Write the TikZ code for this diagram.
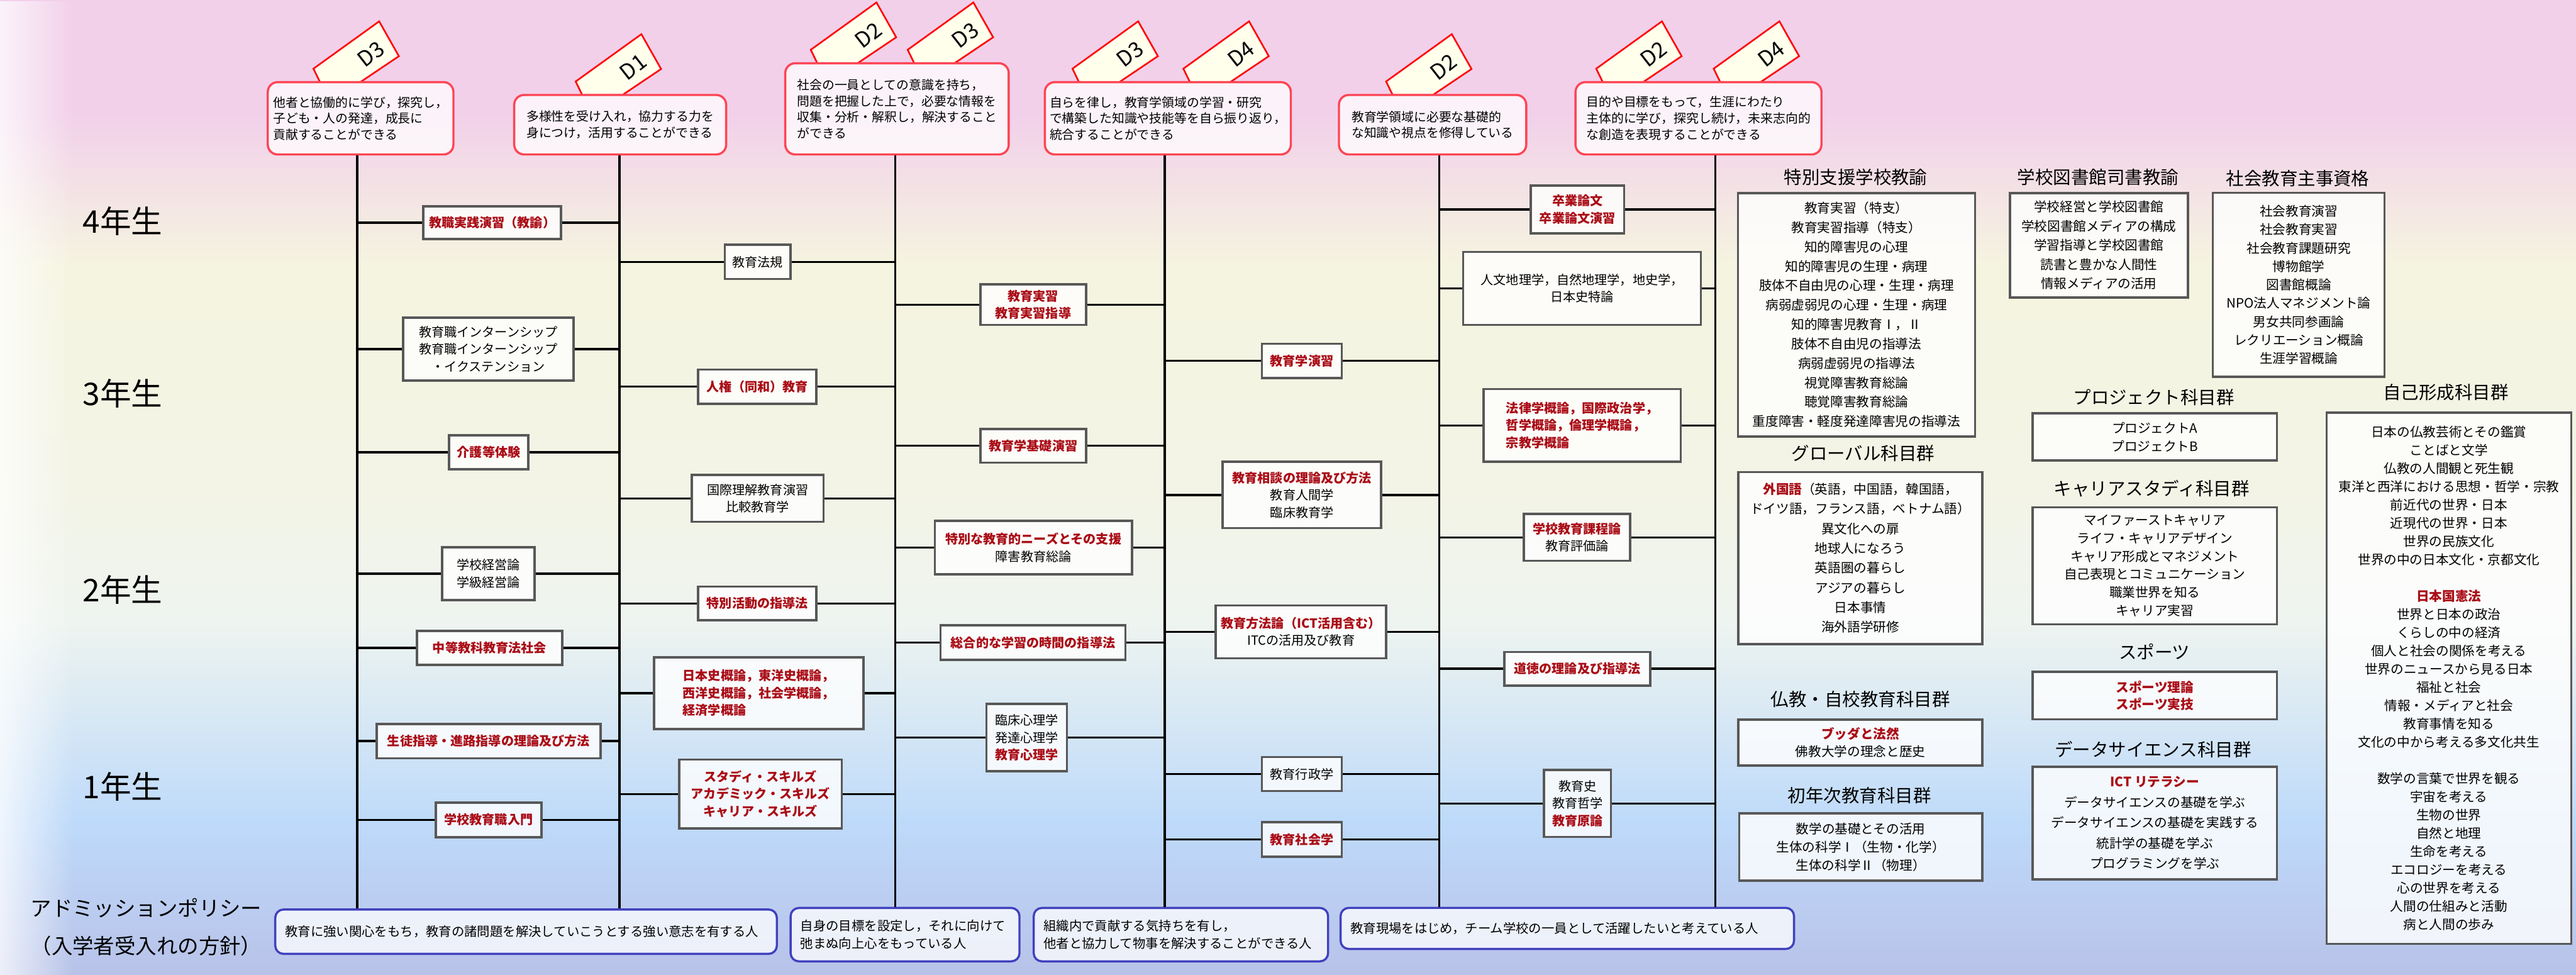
\documentclass[tikz,border=0pt]{standalone}
\usepackage{fontspec}
\setmainfont{Noto Sans CJK JP}
\usetikzlibrary{positioning,fadings}

\definecolor{kred}{RGB}{170,12,22}
\definecolor{dpred}{RGB}{255,68,84}
\definecolor{tagred}{RGB}{255,0,0}
\definecolor{tagfill}{RGB}{255,255,236}
\definecolor{boxgray}{RGB}{88,88,88}
\definecolor{apblue}{RGB}{64,64,190}
\definecolor{bgA}{RGB}{242,208,234}
\definecolor{bgB}{RGB}{245,244,224}
\definecolor{bgC}{RGB}{243,244,230}
\definecolor{bgD}{RGB}{238,244,240}
\definecolor{bgE}{RGB}{190,218,250}
\definecolor{bgF}{RGB}{184,194,232}

\newcommand{\redt}[1]{\textcolor{kred}{\bfseries #1}}

\tikzfading[name=fadeleft, left color=transparent!25, right color=transparent!100]

\tikzset{every picture/.style={line width=0.75pt}}
\tikzset{
  dpbox/.style={draw=dpred, fill=white, fill opacity=0.75, text opacity=1, line width=1.3pt, rounded corners=6pt, align=left, inner sep=0pt, font=\fontsize{7.6}{9.8}\selectfont},
  tagflag/.style={draw=tagred, fill=tagfill, line width=1pt, line join=miter},
  tagtxt/.style={font=\fontsize{13}{13}\selectfont, rotate=38, inner sep=0pt},
  subj/.style={draw=boxgray, fill=white, fill opacity=0.8, text opacity=1, line width=1.4pt, align=center, inner sep=0pt, font=\fontsize{7.7}{10.5}\selectfont},
  panel/.style={draw=boxgray, fill=white, fill opacity=0.8, text opacity=1, line width=1.4pt, align=center, inner sep=0pt, font=\fontsize{7.9}{11.5}\selectfont},
  ptitle/.style={font=\fontsize{10.9}{12}\selectfont, inner sep=0pt},
  year/.style={font=\fontsize{19}{20}\selectfont, inner sep=0pt},
  apbox/.style={draw=apblue, fill=white, fill opacity=0.75, text opacity=1, line width=1.3pt, rounded corners=5pt, align=left, inner xsep=6pt, inner ysep=0pt, font=\fontsize{7.8}{10.5}\selectfont},
  vline/.style={line width=1.3pt},
  conn/.style={line width=1.3pt}
}

\begin{document}
\begin{tikzpicture}[x=1pt,y=1pt,yscale=-1,xscale=1]
\useasboundingbox (0,0) rectangle (1568,593);

%Background bands
\foreach \ya/\yb/\ca/\cb in {0/70/bgA/bgA, 70/160/bgA/bgB, 160/300/bgB/bgC, 300/380/bgC/bgD, 380/500/bgD/bgE, 500/593/bgE/bgF}
  \shade[top color=\ca, bottom color=\cb] (0,\ya-0.5) rectangle (1568,\yb+0.5);
\fill[white, path fading=fadeleft] (0,0) rectangle (45,593);

%Shape: DP flags
\foreach \bx/\by/\lab [count=\i] in {194.8/50/D3, 354.4/57.8/D1, 497.5/38.5/D2, 556.5/38.5/D3, 656.8/50/D3, 724.3/50/D4, 847.7/57.8/D2, 975.6/50/D2, 1047.1/50/D4}{
  \draw[tagflag] (\bx,\by) -- ++(-4,-8.2) -- ++(40,-28.8) -- ++(12,21.2) -- ++(-23.5,15.8) -- cycle;
  \node[tagtxt] (tag\i) at (\bx+31,\by-17) {\lab};
}

%Diploma policy boxes
\node[dpbox, minimum width=113pt, minimum height=44pt] (dpA) at (219.5,72) {他者と協働的に学び，探究し，\\子ども・人の発達，成長に\\貢献することができる};
\node[dpbox, minimum width=129pt, minimum height=36.2pt] (dpB) at (377.5,75.9) {多様性を受け入れ，協力する力を\\身につけ，活用することができる};
\node[dpbox, minimum width=136pt, minimum height=55.5pt] (dpC) at (546,66.25) {社会の一員としての意識を持ち，\\問題を把握した上で，必要な情報を\\収集・分析・解釈し，解決すること\\ができる};
\node[dpbox, minimum width=149.7pt, minimum height=44pt] (dpD) at (710.85,72) {自らを律し，教育学領域の学習・研究\\で構築した知識や技能等を自ら振り返り，\\統合することができる};
\node[dpbox, minimum width=114pt, minimum height=36.2pt] (dpE) at (872,75.9) {教育学領域に必要な基礎的\\な知識や視点を修得している};
\node[dpbox, minimum width=149.7pt, minimum height=44pt] (dpF) at (1033.85,72) {目的や目標をもって，生涯にわたり\\主体的に学び，探究し続け，未来志向的\\な創造を表現することができる};

% Text Node
\node[year] (y4) at (74.6,134.7) {4年生};
\node[year] (y3) at (74.6,239.5) {3年生};
\node[year] (y2) at (74.6,359) {2年生};
\node[year] (y1) at (74.6,478.6) {1年生};
\node[align=center, inner sep=0pt, font=\fontsize{12.8}{22.8}\selectfont] (apt) at (89,564.2) {アドミッションポリシー\\（入学者受入れの方針）};

%Courses, column 1
\node[subj, minimum width=83.8pt, minimum height=20.1pt] (k11) at (299.6,135.5) {\redt{教職実践演習（教諭）}};
\node[subj, minimum width=103.6pt, minimum height=38.2pt] (k12) at (297.2,212.4) {教育職インターンシップ\\教育職インターンシップ\\・イクステンション};
\node[subj, minimum width=48.2pt, minimum height=20.6pt] (k13) at (297.5,275.3) {\redt{介護等体験}};
\node[subj, minimum width=56.4pt, minimum height=32.2pt] (k14) at (297.2,349.1) {学校経営論\\学級経営論};
\node[subj, minimum width=88.4pt, minimum height=20.6pt] (k15) at (298,394.3) {\redt{中等教科教育法社会}};
\node[subj, minimum width=136.3pt, minimum height=20.9pt] (k16) at (297.4,451) {\redt{生徒指導・進路指導の理論及び方法}};
\node[subj, minimum width=64.2pt, minimum height=21pt] (k17) at (297.4,498.9) {\redt{学校教育職入門}};

%Courses, column 2
\node[subj, minimum width=40pt, minimum height=20.8pt] (k21) at (461.2,159.4) {教育法規};
\node[subj, minimum width=72pt, minimum height=20.7pt] (k22) at (461,235.3) {\redt{人権（同和）教育}};
\node[subj, minimum width=80.3pt, minimum height=28.6pt] (k23) at (461.2,303.3) {国際理解教育演習\\比較教育学};
\node[subj, minimum width=72pt, minimum height=20.5pt] (k24) at (461,367.2) {\redt{特別活動の指導法}};
\node[subj, align=left, minimum width=127.6pt, minimum height=43.6pt] (k25) at (461.8,421.8) {\redt{日本史概論，東洋史概論，}\\\redt{西洋史概論，社会学概論，}\\\redt{経済学概論}};
\node[subj, minimum width=99.1pt, minimum height=41.8pt] (k26) at (462.9,483.2) {\redt{スタディ・スキルズ}\\\redt{アカデミック・スキルズ}\\\redt{キャリア・スキルズ}};

%Courses, column 3
\node[subj, minimum width=64.2pt, minimum height=24.7pt] (k31) at (628.9,185.4) {\redt{教育実習}\\\redt{教育実習指導}};
\node[subj, minimum width=64.2pt, minimum height=20.6pt] (k32) at (628.9,271.3) {\redt{教育学基礎演習}};
\node[subj, minimum width=120pt, minimum height=32.5pt] (k33) at (629,333.3) {\redt{特別な教育的ニーズとその支援}\\障害教育総論};
\node[subj, minimum width=112.5pt, minimum height=21pt] (k34) at (628.8,391.1) {\redt{総合的な学習の時間の指導法}};
\node[subj, minimum width=49pt, minimum height=40.9pt] (k35) at (624.9,448.9) {臨床心理学\\発達心理学\\\redt{教育心理学}};

%Courses, column 4
\node[subj, minimum width=48.7pt, minimum height=20.7pt] (k41) at (792.4,219.6) {\redt{教育学演習}};
\node[subj, minimum width=96.4pt, minimum height=40.4pt] (k42) at (792.5,301.2) {\redt{教育相談の理論及び方法}\\教育人間学\\臨床教育学};
\node[subj, minimum width=103.8pt, minimum height=32.2pt] (k43) at (791.9,384.5) {\redt{教育方法論（ICT活用含む）}\\ITCの活用及び教育};
\node[subj, minimum width=48.7pt, minimum height=20.7pt] (k44) at (792.4,471) {教育行政学};
\node[subj, minimum width=48.7pt, minimum height=21.1pt] (k45) at (792.4,510.9) {\redt{教育社会学}};

%Courses, column 5
\node[subj, minimum width=56.7pt, minimum height=29pt] (k51) at (960.2,127.5) {\redt{卒業論文}\\\redt{卒業論文演習}};
\node[subj, minimum width=144.7pt, minimum height=44.4pt] (k52) at (963,175.5) {人文地理学，自然地理学，地史学，\\日本史特論};
\node[subj, align=left, minimum width=120.1pt, minimum height=44.2pt] (k53) at (963,258.9) {\redt{法律学概論，国際政治学，}\\\redt{哲学概論，倫理学概論，}\\\redt{宗教学概論}};
\node[subj, minimum width=64.6pt, minimum height=28.5pt] (k54) at (959.9,327) {\redt{学校教育課程論}\\教育評価論};
\node[subj, minimum width=88.6pt, minimum height=20.5pt] (k55) at (960.1,407) {\redt{道徳の理論及び指導法}};
\node[subj, minimum width=40.7pt, minimum height=40.7pt] (k56) at (960.2,489) {教育史\\教育哲学\\\redt{教育原論}};

%Admission policy boxes
\node[apbox, text width=293.3pt, minimum height=27pt] (ap1) at (320.2,567) {教育に強い関心をもち，教育の諸問題を解決していこうとする強い意志を有する人};
\node[apbox, text width=127.3pt, minimum height=32.5pt] (ap2) at (550.9,568.8) {自身の目標を設定し，それに向けて\\弛まぬ向上心をもっている人};
\node[apbox, text width=167.2pt, minimum height=32.5pt] (ap3) at (718.8,568.8) {組織内で貢献する気持ちを有し，\\他者と協力して物事を解決することができる人};
\node[apbox, text width=264pt, minimum height=25pt] (ap4) at (954,565) {教育現場をはじめ，チーム学校の一員として活躍したいと考えている人};

%Subject groups
\node[ptitle] (t1) at (1129.5,107.7) {特別支援学校教諭};
\node[panel, font=\fontsize{7.9}{11.8}\selectfont, minimum width=144.3pt, minimum height=148.1pt] (r1) at (1130,191.5) {教育実習（特支）\\教育実習指導（特支）\\知的障害児の心理\\知的障害児の生理・病理\\肢体不自由児の心理・生理・病理\\病弱虚弱児の心理・生理・病理\\知的障害児教育Ⅰ，Ⅱ\\肢体不自由児の指導法\\病弱虚弱児の指導法\\視覚障害教育総論\\聴覚障害教育総論\\重度障害・軽度発達障害児の指導法};
\node[ptitle] (t4) at (1134,276) {グローバル科目群};
\node[panel, font=\fontsize{7.9}{12}\selectfont, minimum width=148.5pt, minimum height=104.7pt] (r2) at (1132.4,339.6) {\redt{外国語}（英語，中国語，韓国語，\\ドイツ語，フランス語，ベトナム語）\\異文化への扉\\地球人になろう\\英語圏の暮らし\\アジアの暮らし\\日本事情\\海外語学研修};
\node[ptitle] (t5) at (1132.4,425.5) {仏教・自校教育科目群};
\node[panel, font=\fontsize{7.9}{10.5}\selectfont, minimum width=148.5pt, minimum height=28.1pt] (r3) at (1132.4,451.9) {\redt{ブッダと法然}\\佛教大学の理念と歴史};
\node[ptitle] (t6) at (1131.8,484) {初年次教育科目群};
\node[panel, font=\fontsize{7.9}{11.2}\selectfont, minimum width=148pt, minimum height=41pt] (r4) at (1132.6,515.5) {数学の基礎とその活用\\生体の科学Ⅰ（生物・化学）\\生体の科学Ⅱ（物理）};

\node[ptitle] (t2) at (1277,107.7) {学校図書館司書教諭};
\node[panel, font=\fontsize{7.9}{11.7}\selectfont, minimum width=108.3pt, minimum height=63.7pt] (r5) at (1277.6,149.3) {学校経営と学校図書館\\学校図書館メディアの構成\\学習指導と学校図書館\\読書と豊かな人間性\\情報メディアの活用};
\node[ptitle] (t7) at (1311,241.8) {プロジェクト科目群};
\node[panel, font=\fontsize{7.9}{11.1}\selectfont, minimum width=148.8pt, minimum height=28.7pt] (r7) at (1311.6,265.9) {プロジェクトA\\プロジェクトB};
\node[ptitle] (t8) at (1309.7,297.5) {キャリアスタディ科目群};
\node[panel, font=\fontsize{7.9}{11}\selectfont, minimum width=148.8pt, minimum height=71.2pt] (r8) at (1311.6,344.3) {マイファーストキャリア\\ライフ・キャリアデザイン\\キャリア形成とマネジメント\\自己表現とコミュニケーション\\職業世界を知る\\キャリア実習};
\node[ptitle] (t9) at (1311.4,396.7) {スポーツ};
\node[panel, font=\fontsize{7.9}{10.4}\selectfont, minimum width=148.8pt, minimum height=28.9pt] (r9) at (1311.6,423.3) {\redt{スポーツ理論}\\\redt{スポーツ実技}};
\node[ptitle] (t10) at (1310.5,456) {データサイエンス科目群};
\node[panel, font=\fontsize{7.9}{12.4}\selectfont, minimum width=148.8pt, minimum height=68.5pt] (r10) at (1311.6,500.8) {\redt{ICT リテラシー}\\データサイエンスの基礎を学ぶ\\データサイエンスの基礎を実践する\\統計学の基礎を学ぶ\\プログラミングを学ぶ};

\node[ptitle] (t3) at (1398.6,108.5) {社会教育主事資格};
\node[panel, font=\fontsize{7.9}{11.2}\selectfont, minimum width=104.5pt, minimum height=111.8pt] (r6) at (1399.2,173.3) {社会教育演習\\社会教育実習\\社会教育課題研究\\博物館学\\図書館概論\\NPO法人マネジメント論\\男女共同参画論\\レクリエーション概論\\生涯学習概論};
\node[ptitle] (t11) at (1488.7,238.8) {自己形成科目群};
\node[panel, font=\fontsize{7.9}{11.1}\selectfont, minimum width=148.9pt, minimum height=323.3pt] (r11) at (1490.6,412.7) {日本の仏教芸術とその鑑賞\\ことばと文学\\仏教の人間観と死生観\\東洋と西洋における思想・哲学・宗教\\前近代の世界・日本\\近現代の世界・日本\\世界の民族文化\\世界の中の日本文化・京都文化\\[11.1pt]\redt{日本国憲法}\\世界と日本の政治\\くらしの中の経済\\個人と社会の関係を考える\\世界のニュースから見る日本\\福祉と社会\\情報・メディアと社会\\教育事情を知る\\文化の中から考える多文化共生\\[11.1pt]数学の言葉で世界を観る\\宇宙を考える\\生物の世界\\自然と地理\\生命を考える\\エコロジーを考える\\心の世界を考える\\人間の仕組みと活動\\病と人間の歩み};

%Straight Lines, year axes
\coordinate (v1) at (217.5,0);
\coordinate (v2) at (377,0);
\coordinate (v3) at (545,0);
\coordinate (v4) at (709,0);
\coordinate (v5) at (876,0);
\coordinate (v6) at (1044,0);
\foreach \v/\tp/\bt in {v1/dpA/ap1, v2/dpB/ap1, v3/dpC/ap2, v4/dpD/ap3, v5/dpE/ap4, v6/dpF/ap4}
  \draw[vline] (\v |- \tp.south) -- (\v |- \bt.north);

%Straight Lines, course links
\foreach \b/\l/\r in {k11/v1/v2, k12/v1/v2, k13/v1/v2, k14/v1/v2, k15/v1/v2, k16/v1/v2, k17/v1/v2,
  k21/v2/v3, k22/v2/v3, k23/v2/v3, k24/v2/v3, k25/v2/v3, k26/v2/v3,
  k31/v3/v4, k32/v3/v4, k33/v3/v4, k34/v3/v4, k35/v3/v4,
  k41/v4/v5, k42/v4/v5, k43/v4/v5, k44/v4/v5, k45/v4/v5,
  k51/v5/v6, k52/v5/v6, k53/v5/v6, k54/v5/v6, k55/v5/v6, k56/v5/v6}{
  \draw[conn] (\b.west) -- (\l |- \b.west);
  \draw[conn] (\b.east) -- (\r |- \b.east);
}

\end{tikzpicture}
\end{document}
